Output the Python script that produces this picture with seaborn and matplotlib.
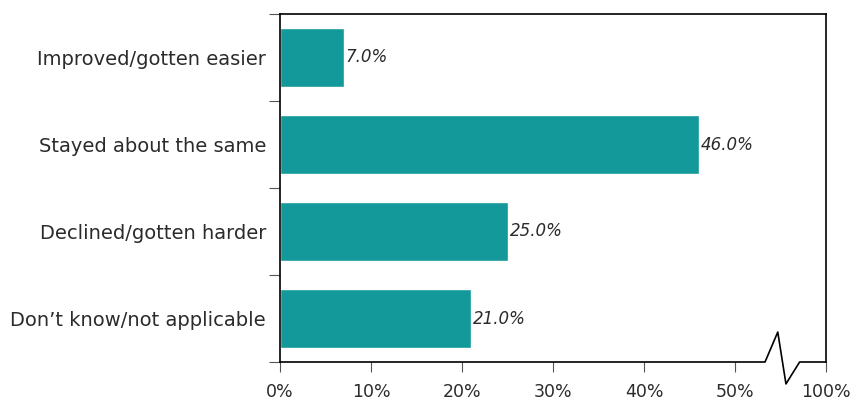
import matplotlib
matplotlib.use("Agg")
import matplotlib.pyplot as plt
import seaborn as sns
import numpy as np

categories = [
    "Improved/gotten easier",
    "Stayed about the same",
    "Declined/gotten harder",
    "Don\u2019t know/not applicable",
]
values = [7.0, 46.0, 25.0, 21.0]
tick_positions = [0, 10, 20, 30, 40, 50, 60]
tick_labels = ["0%", "10%", "20%", "30%", "40%", "50%", "100%"]

bar_color = "#13999a"
text_color = "#2b2b2b"

sns.set_style("white")
plt.rcParams["font.family"] = ["DejaVu Sans"]

fig = plt.figure(figsize=(8.61, 4.03), dpi=100)
ax = fig.add_axes([280 / 861, 1 - 362 / 403, (826 - 280) / 861, (362 - 14) / 403])

sns.barplot(x=values, y=categories, orient="h", color=bar_color,
            saturation=1, width=0.67, ax=ax)

ax.set_xlim(0, 60)
ax.set_ylim(3.5, -0.5)
ax.set_xlabel("")
ax.set_ylabel("")

# value labels
for cont in ax.containers:
    ax.bar_label(cont, labels=[f"{v:.1f}%" for v in values], padding=1.5,
                 fontsize=12, fontstyle="italic", color=text_color)

# spines: left, top, right solid; bottom drawn with a break mark
for side in ["left", "top", "right"]:
    ax.spines[side].set_visible(True)
    ax.spines[side].set_color("black")
    ax.spines[side].set_linewidth(1.2)
ax.spines["bottom"].set_visible(False)

trans = ax.get_xaxis_transform()
bx = [0, 53.3, 54.7, 55.6, 57.1, 60]
by = [0, 0, 0.086, -0.063, 0, 0]
ax.plot(bx, by, color="black", lw=1.2, transform=trans, clip_on=False)

# x ticks
ax.set_xticks(tick_positions)
ax.set_xticklabels(tick_labels, fontsize=12.5, color=text_color)
ax.tick_params(axis="x", direction="out", length=7, width=0.8,
               color="#555555", pad=8, bottom=True)

# y ticks: labels centered on bars, tick marks at category boundaries
ax.set_yticks(range(len(categories)))
ax.set_yticklabels(categories, fontsize=14, color=text_color)
ax.tick_params(axis="y", which="major", length=0, pad=10)
ax.set_yticks(np.arange(-0.5, len(categories), 1.0), minor=True)
ax.tick_params(axis="y", which="minor", direction="out", length=8,
               width=0.8, color="#555555", left=True)

fig.savefig("out.png", dpi=100, facecolor="white")
